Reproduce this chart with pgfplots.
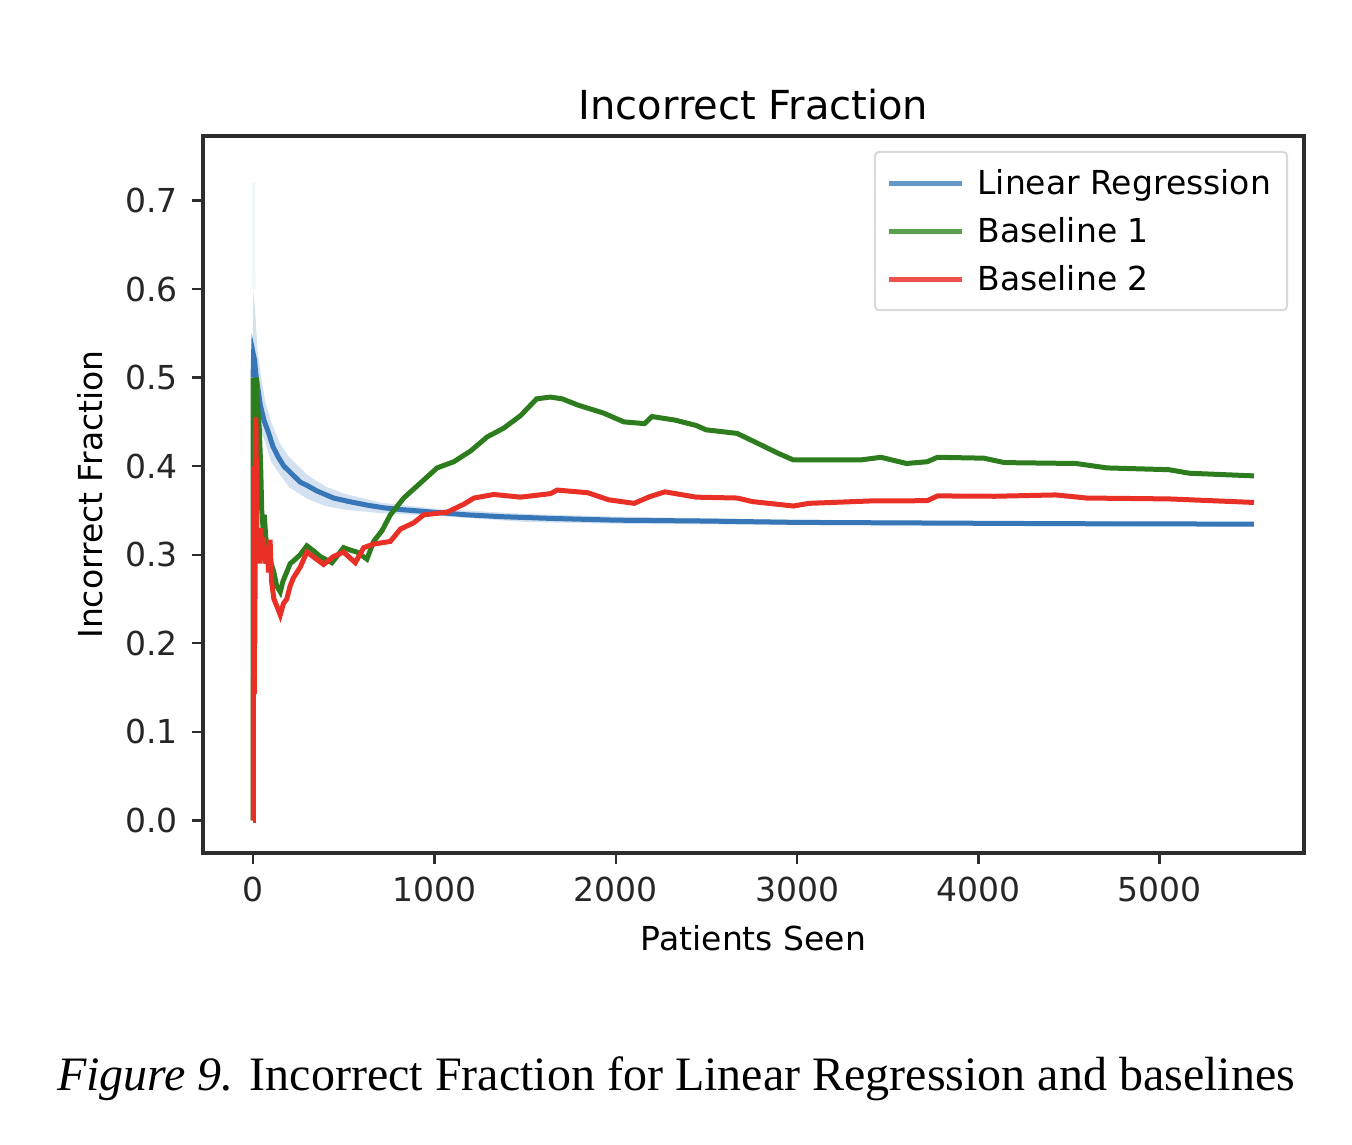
\documentclass[border=0pt]{standalone}
\usepackage{fontspec}
\setmainfont{DejaVu Sans}
\newfontfamily\capfont{Liberation Serif}
\usepackage{pgfplots}
\pgfplotsset{compat=1.18}
\definecolor{cblue}{RGB}{55,118,183}
\definecolor{cgreen}{RGB}{45,125,30}
\definecolor{cred}{RGB}{232,48,38}
\definecolor{lblue}{RGB}{100,152,200}
\definecolor{lgreen}{RGB}{88,160,75}
\definecolor{lred}{RGB}{238,80,75}
\definecolor{band}{RGB}{200,218,238}
\definecolor{spine}{RGB}{45,45,45}
\begin{document}
\begin{tikzpicture}
\useasboundingbox (0,0) rectangle (676pt,572pt);
\begin{axis}[
  at={(101.5pt,145.5pt)}, anchor=south west,
  scale only axis, width=550.5pt, height=358.5pt,
  xmin=-276, xmax=5796, ymin=-0.0368, ymax=0.7728,
  xtick={0,1000,2000,3000,4000,5000},
  ytick={0,0.1,0.2,0.3,0.4,0.5,0.6,0.7},
  xtick pos=lower, ytick pos=left,
  tick align=outside, major tick length=5.5pt,
  tick style={line width=1.2pt, spine},
  axis line style={line width=1.6pt, spine},
  /pgf/number format/assume math mode=true,
  /pgf/number format/set thousands separator={},
  ticklabel style={font=\fontsize{16.5}{20}\selectfont, text=black!85},
  xticklabel style={yshift=-3pt},
  yticklabel style={xshift=-3.5pt, /pgf/number format/.cd, fixed, fixed zerofill, precision=1},
  title={Incorrect Fraction},
  title style={font=\fontsize{20}{24}\selectfont, at={(0.5,1)}, anchor=base, yshift=2pt},
  xlabel={Patients Seen},
  ylabel={Incorrect Fraction},
  xlabel style={yshift=-5pt},
  ylabel style={yshift=4.5pt},
  label style={font=\fontsize{16.5}{20}\selectfont},
  legend cell align=left,
  legend style={at={(1,1)}, anchor=north east, xshift=-8pt, yshift=-7.5pt,
    draw=black!15, line width=1pt, rounded corners=2pt,
    font=\fontsize{16.5}{20}\selectfont, row sep=6pt, inner xsep=6pt, inner ysep=6.5pt},
  legend image code/.code={\draw[#1] (0pt,0pt) -- (36.5pt,0pt); \path[draw=none] (0pt,0pt) -- (42pt,0pt);},
]
% faint top of band
\addplot[fill=band, fill opacity=0.25, draw=none, forget plot] coordinates {(-5,0.72)(10,0.72)(14,0.6)(-5,0.6)} -- cycle;
% confidence band
\addplot[fill=band, fill opacity=0.8, draw=none, forget plot] coordinates {
(0,0.60)(10,0.58)(25,0.53)(45,0.50)(70,0.47)(100,0.45)(150,0.425)(200,0.41)(300,0.39)(400,0.377)(500,0.369)(700,0.359)(1000,0.352)(1500,0.346)(2000,0.343)(3000,0.3395)(4000,0.338)(5520,0.337)
(5520,0.332)(4000,0.333)(3000,0.3335)(2000,0.335)(1500,0.337)(1000,0.344)(700,0.347)(500,0.351)(400,0.355)(300,0.363)(200,0.376)(150,0.39)(100,0.405)(70,0.425)(45,0.44)(25,0.46)(10,0.465)(0,0.46)} -- cycle;
\addplot[cblue, line width=2.5pt, forget plot] coordinates {
(0,0.50)(3,0.525)(8,0.52)(15,0.505)(25,0.49)(40,0.469)(60,0.452)(85,0.438)(110,0.422)(140,0.41)(170,0.40)(205,0.393)(260,0.382)(300,0.378)(352,0.372)(444,0.364)(530,0.36)(628,0.356)(720,0.353)(813,0.351)(997,0.348)(1181,0.345)(1365,0.343)(1641,0.341)(2000,0.339)(2500,0.338)(3000,0.3365)(3500,0.336)(4000,0.3355)(4500,0.335)(5000,0.3348)(5520,0.3345)};
\addplot[cgreen, line width=2.5pt, forget plot] coordinates {
(0,0)(1,0.5)(2,0.333)(3,0.5)(5,0.4)(8,0.5)(12,0.46)(18,0.5)(25,0.47)(35,0.44)(42,0.40)(48,0.35)(55,0.33)(62,0.345)(70,0.32)(85,0.30)(100,0.29)(115,0.28)(130,0.265)(150,0.258)(165,0.27)(185,0.28)(205,0.29)(223,0.293)(260,0.30)(297,0.31)(330,0.305)(370,0.298)(435,0.291)(470,0.30)(499,0.308)(540,0.305)(573,0.303)(628,0.295)(665,0.315)(711,0.327)(757,0.345)(831,0.364)(923,0.381)(1015,0.398)(1107,0.405)(1199,0.417)(1291,0.433)(1383,0.443)(1475,0.457)(1564,0.476)(1640,0.478)(1705,0.476)(1791,0.469)(1932,0.460)(2045,0.450)(2159,0.448)(2200,0.456)(2327,0.452)(2443,0.446)(2499,0.441)(2669,0.437)(2781,0.426)(2896,0.4145)(2980,0.407)(3350,0.407)(3463,0.410)(3604,0.403)(3718,0.405)(3775,0.410)(4030,0.409)(4144,0.404)(4538,0.403)(4710,0.398)(5051,0.396)(5164,0.392)(5520,0.389)};
\addplot[cred, line width=2.5pt, forget plot] coordinates {
(0,0)(2,0)(3,0.333)(4,0.25)(5,0.4)(6,0.333)(7,0.143)(8,0.333)(10,0.2)(12,0.333)(14,0.43)(16,0.455)(18,0.4)(21,0.33)(26,0.30)(30,0.32)(35,0.29)(42,0.33)(50,0.30)(58,0.32)(66,0.29)(76,0.31)(86,0.28)(94,0.317)(102,0.27)(115,0.25)(135,0.24)(150,0.232)(168,0.245)(186,0.25)(205,0.265)(223,0.274)(260,0.286)(297,0.303)(343,0.296)(389,0.289)(444,0.298)(499,0.303)(564,0.291)(610,0.308)(665,0.312)(757,0.315)(813,0.329)(886,0.336)(941,0.345)(1070,0.348)(1162,0.357)(1218,0.364)(1328,0.368)(1475,0.365)(1641,0.369)(1677,0.373)(1846,0.370)(1961,0.362)(2102,0.358)(2188,0.3656)(2272,0.371)(2443,0.365)(2670,0.364)(2753,0.360)(2980,0.355)(3066,0.358)(3405,0.3607)(3718,0.361)(3775,0.3664)(4090,0.366)(4428,0.3675)(4597,0.364)(5051,0.363)(5520,0.359)};
\addlegendimage{lblue, line width=2.5pt}
\addlegendentry{Linear Regression}
\addlegendimage{lgreen, line width=2.5pt}
\addlegendentry{Baseline 1}
\addlegendimage{lred, line width=2.5pt}
\addlegendentry{Baseline 2}
\end{axis}
\node[anchor=base, inner sep=0pt] at (338pt,27pt) {\capfont\fontsize{24}{28}\selectfont\textit{Figure 9.} Incorrect Fraction for Linear Regression and baselines};
\end{tikzpicture}
\end{document}
